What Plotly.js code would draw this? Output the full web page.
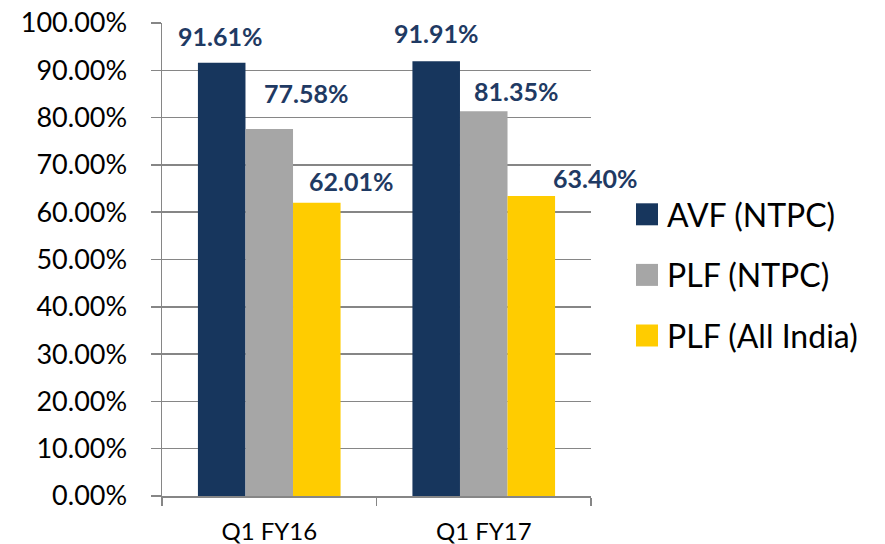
<!DOCTYPE html>
<html>
<head>
<meta charset="utf-8">
<script src="https://cdn.plot.ly/plotly-3.0.1.min.js"></script>
<style>html,body{margin:0;padding:0;background:#fff;}</style>
</head>
<body>
<div id="chart" style="width:885px;height:544px;"></div>
<script>
// ---- data ----
const categories = ['Q1 FY16', 'Q1 FY17'];
const seriesNames = ['AVF (NTPC)', 'PLF (NTPC)', 'PLF (All India)'];
const avfNTPC = [91.61, 91.91];
const plfNTPC = [77.58, 81.35];
const plfAllIndia = [62.01, 63.40];
const yTickValues = [0, 10, 20, 30, 40, 50, 60, 70, 80, 90, 100];

// ---- styles ----
const colors = ['#17365D', '#A6A6A6', '#FFCC00'];
const labelColor = '#1F3A63';
const axisGray = '#868686';
const FONT = 'Lato, "Open Sans", sans-serif';
// label offsets in px relative to (category centre, bar top): [dx, dy]
const labelOffsets = [
  [[-49, 27], [-48, 28]],
  [[37, 36], [32, 20]],
  [[82, 22], [111, 18]]
];

const seriesValues = [avfNTPC, plfNTPC, plfAllIndia];

const traces = seriesValues.map((vals, i) => ({
  type: 'bar',
  name: seriesNames[i],
  x: categories,
  y: vals,
  marker: {color: colors[i]},
  legendgroup: 'g' + i,
  hoverinfo: 'none'
}));

const annotations = [];
seriesValues.forEach((vals, i) => {
  vals.forEach((v, j) => {
    annotations.push({
      xref: 'x', yref: 'y',
      x: categories[j], y: v,
      text: '<b>' + v.toFixed(2) + '%</b>',
      showarrow: false,
      xanchor: 'center', yanchor: 'middle',
      xshift: labelOffsets[i][j][0],
      yshift: labelOffsets[i][j][1],
      font: {family: FONT, size: 25, color: labelColor}
    });
  });
});

const layout = {
  width: 885, height: 544,
  margin: {l: 162, r: 294, t: 23, b: 48, pad: 0},
  paper_bgcolor: '#ffffff',
  plot_bgcolor: '#ffffff',
  barmode: 'group',
  bargap: 0.335,
  bargroupgap: 0,
  showlegend: true,
  legend: {
    xref: 'container', yref: 'container',
    x: 627 / 885, xanchor: 'left',
    y: 1 - 187 / 544, yanchor: 'top',
    font: {family: FONT, size: 32, color: '#000'},
    tracegroupgap: 16,
    bgcolor: 'rgba(0,0,0,0)'
  },
  xaxis: {
    type: 'category',
    range: [-0.5, categories.length - 0.5],
    autorange: false,
    tickson: 'boundaries',
    ticks: 'outside', ticklen: 8, tickwidth: 1.5, tickcolor: axisGray,
    showline: true, linecolor: axisGray, linewidth: 1.5,
    showgrid: false,
    tickfont: {family: FONT, size: 24, color: '#000'},
    ticklabelstandoff: 14
  },
  yaxis: {
    range: [0, 100],
    autorange: false,
    tickvals: yTickValues,
    ticktext: yTickValues.map(v => v.toFixed(2) + '%'),
    ticks: 'outside', ticklen: 10, tickwidth: 1.5, tickcolor: axisGray,
    showline: true, linecolor: axisGray, linewidth: 1.5,
    showgrid: true, gridcolor: axisGray, gridwidth: 1.5,
    zeroline: false,
    tickfont: {family: FONT, size: 27, color: '#000'},
    ticklabelstandoff: 18
  },
  annotations: annotations,
  font: {family: FONT}
};

Plotly.newPlot('chart', traces, layout, {displayModeBar: false, staticPlot: true}).then(() => {
  document.querySelectorAll('.legend .legendpoints path').forEach(p => {
    const t = p.getAttribute('transform') || '';
    p.setAttribute('d', 'M11,11H-11V-11H11Z');
    p.setAttribute('transform', t);
  });
});
</script>
</body>
</html>
